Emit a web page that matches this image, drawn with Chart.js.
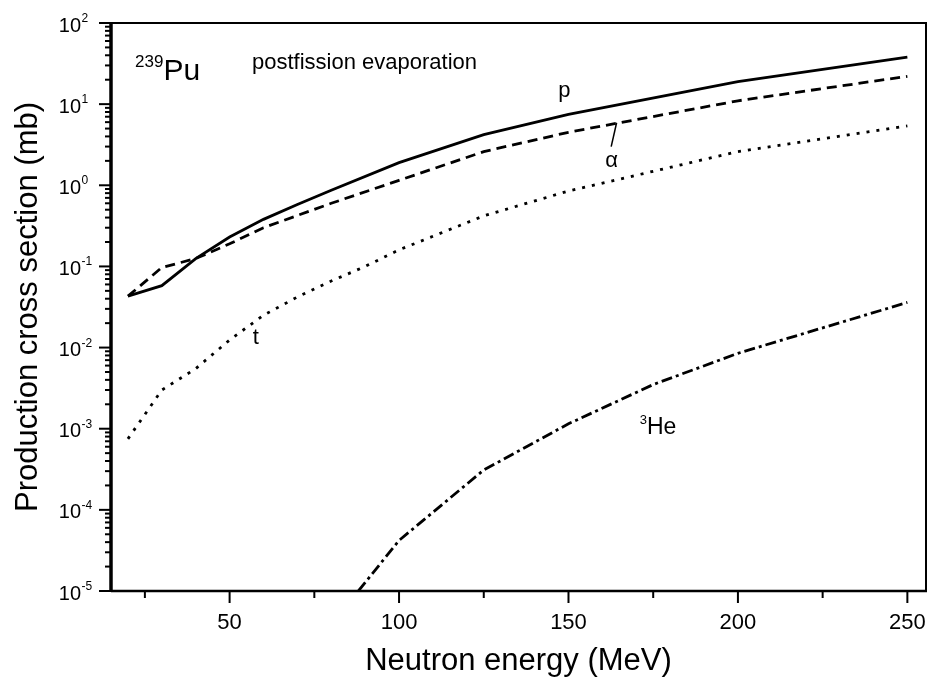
<!DOCTYPE html>
<html>
<head>
<meta charset="utf-8">
<script src="https://cdn.jsdelivr.net/npm/chart.js@4.4.0/dist/chart.umd.min.js"></script>
<style>
  html, body { margin: 0; padding: 0; background: #fff; }
  #wrap { width: 930px; height: 686px; }
</style>
</head>
<body>
<div id="wrap"><canvas id="xsec" width="930" height="686"></canvas></div>
<script>
// 239Pu postfission evaporation: production cross sections (mb) vs neutron energy (MeV)
const energyP = [20, 30, 40, 50, 60, 70, 80, 100, 125, 150, 200, 250];
const sigmaP = [0.043, 0.058, 0.125, 0.23, 0.38, 0.58, 0.87, 1.9, 4.2, 7.5, 19, 38];

const energyA = [20, 30, 40, 50, 60, 80, 100, 125, 150, 200, 250];
const sigmaA = [0.043, 0.097, 0.125, 0.19, 0.30, 0.60, 1.15, 2.6, 4.5, 11, 22];

const energyT = [20, 30, 40, 50, 60, 70, 80, 90, 100, 125, 150, 200, 250];
const sigmaT = [0.00075, 0.003, 0.0055, 0.0124, 0.025, 0.042, 0.066, 0.10, 0.16, 0.42, 0.85, 2.6, 5.4];

const energyHe = [88, 100, 125, 150, 175, 200, 250];
const sigmaHe = [1e-5, 4.2e-5, 3.1e-4, 1.15e-3, 3.5e-3, 8.5e-3, 0.036];

const xTicks = [25, 50, 75, 100, 125, 150, 175, 200, 225, 250];
const xTickLabels = [50, 100, 150, 200, 250];
const yDecades = [-5, -4, -3, -2, -1, 0, 1, 2];

const xTitle = 'Neutron energy (MeV)';
const yTitle = 'Production cross section (mb)';

const FONT = '"Liberation Sans", Arial, Helvetica, sans-serif';

const toPoints = (xs, ys) => xs.map((x, i) => ({ x, y: ys[i] }));

// curve labels, placed in data units
const notes = [
  { text: 'p', x: 148.8, y: 12.2, size: 22, align: 'center' },
  { text: 'α', x: 162.7, y: 1.68, size: 22, align: 'center' },
  { text: 't', x: 57.7, y: 0.0111, size: 22, align: 'center' },
  { text: 'postfission evaporation', x: 56.6, y: 27.1, size: 22, align: 'left' },
];
const supNotes = [
  { sup: '239', text: 'Pu', x: 22.1, y: 19.8, size: 30, supSize: 17 },
  { sup: '3', text: 'He', x: 171, y: 8.6e-4, size: 23, supSize: 13 },
];
const alphaPointer = [[162.6, 2.99], [164.2, 5.9]];

const frame = {
  id: 'frame',
  afterDraw(chart) {
    const { ctx, chartArea: a, scales: { x, y } } = chart;
    ctx.save();
    ctx.strokeStyle = '#000';
    ctx.fillStyle = '#000';

    // box
    ctx.lineWidth = 2;
    ctx.strokeRect(a.left, a.top, a.right - a.left, a.bottom - a.top);
    ctx.lineWidth = 3.5;
    ctx.beginPath();
    ctx.moveTo(a.left, a.top - 1);
    ctx.lineTo(a.left, a.bottom + 1);
    ctx.stroke();
    ctx.lineWidth = 2.5;
    ctx.beginPath();
    ctx.moveTo(a.left, a.bottom);
    ctx.lineTo(a.right + 1, a.bottom);
    ctx.stroke();

    // y ticks, outward
    ctx.lineWidth = 2;
    yDecades.forEach(n => {
      for (let k = 1; k <= 9; k++) {
        const v = k * Math.pow(10, n);
        if (v > y.max * 1.0001) break;
        const py = y.getPixelForValue(v);
        const len = k === 1 ? 12 : 6;
        ctx.beginPath();
        ctx.moveTo(a.left - len, py);
        ctx.lineTo(a.left, py);
        ctx.stroke();
      }
      const py = y.getPixelForValue(Math.pow(10, n));
      ctx.font = '20px ' + FONT;
      ctx.textAlign = 'right';
      ctx.textBaseline = 'middle';
      ctx.fillText('10', 81, py + 3);
      ctx.font = '12px ' + FONT;
      ctx.textAlign = 'left';
      ctx.textBaseline = 'alphabetic';
      ctx.fillText(String(n), 81.5, py - 1);
    });

    // x ticks, outward
    xTicks.forEach(v => {
      const px = x.getPixelForValue(v);
      const len = xTickLabels.includes(v) ? 12 : 7;
      ctx.beginPath();
      ctx.moveTo(px, a.bottom);
      ctx.lineTo(px, a.bottom + len);
      ctx.stroke();
    });
    ctx.font = '22px ' + FONT;
    ctx.textAlign = 'center';
    ctx.textBaseline = 'middle';
    xTickLabels.forEach(v => {
      ctx.fillText(String(v), x.getPixelForValue(v), a.bottom + 32);
    });

    // axis titles
    ctx.font = '31px ' + FONT;
    ctx.fillText(xTitle, (a.left + a.right) / 2, a.bottom + 70);
    ctx.save();
    ctx.translate(28, (a.top + a.bottom) / 2);
    ctx.rotate(-Math.PI / 2);
    ctx.fillText(yTitle, 0, 0);
    ctx.restore();

    // labels
    ctx.textBaseline = 'alphabetic';
    notes.forEach(n => {
      ctx.font = n.size + 'px ' + FONT;
      ctx.textAlign = n.align;
      ctx.fillText(n.text, x.getPixelForValue(n.x), y.getPixelForValue(n.y));
    });
    supNotes.forEach(n => {
      const px = x.getPixelForValue(n.x);
      const py = y.getPixelForValue(n.y);
      ctx.textAlign = 'left';
      ctx.font = n.supSize + 'px ' + FONT;
      ctx.fillText(n.sup, px, py - n.size * 0.45);
      const w = ctx.measureText(n.sup).width;
      ctx.font = n.size + 'px ' + FONT;
      ctx.fillText(n.text, px + w, py);
    });

    // alpha pointer
    ctx.lineWidth = 1.5;
    ctx.beginPath();
    ctx.moveTo(x.getPixelForValue(alphaPointer[0][0]), y.getPixelForValue(alphaPointer[0][1]));
    ctx.lineTo(x.getPixelForValue(alphaPointer[1][0]), y.getPixelForValue(alphaPointer[1][1]));
    ctx.stroke();

    ctx.restore();
  }
};

const line = (label, pts, dash) => ({
  label,
  data: pts,
  borderColor: '#000',
  borderWidth: 2.8,
  borderDash: dash,
  borderCapStyle: 'butt',
  pointRadius: 0,
  tension: 0,
  fill: false,
});

const chart = new Chart(document.getElementById('xsec'), {
  type: 'line',
  data: {
    datasets: [
      line('p', toPoints(energyP, sigmaP), []),
      line('α', toPoints(energyA, sigmaA), [10, 6]),
      line('t', toPoints(energyT, sigmaT), [3, 7]),
      line('3He', toPoints(energyHe, sigmaHe), [11, 4, 3, 4]),
    ]
  },
  options: {
    responsive: false,
    animation: false,
    layout: { padding: { top: 23, right: 4, left: 0, bottom: 0 } },
    plugins: { legend: { display: false }, tooltip: { enabled: false } },
    scales: {
      x: {
        type: 'linear', min: 15, max: 255.5,
        ticks: { display: false }, grid: { display: false }, border: { display: false },
        afterFit(s) { s.height = 95; }
      },
      y: {
        type: 'logarithmic', min: 1e-5, max: 100,
        ticks: { display: false }, grid: { display: false }, border: { display: false },
        afterFit(s) { s.width = 111; }
      }
    }
  },
  plugins: [frame]
});
</script>
</body>
</html>
